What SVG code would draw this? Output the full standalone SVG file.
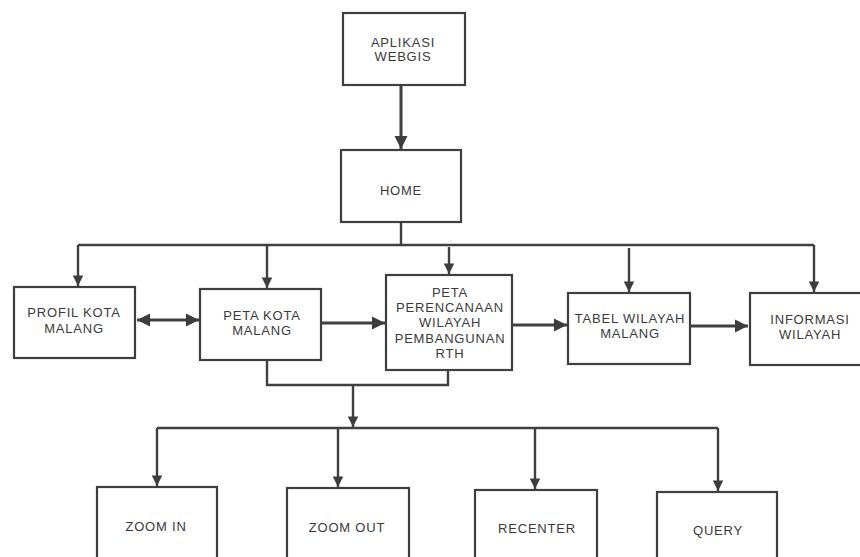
<svg xmlns="http://www.w3.org/2000/svg" width="860" height="557" viewBox="0 0 860 557">
  <defs>
    <marker id="arrow" viewBox="0 0 10 10" refX="10" refY="5" markerWidth="4.4" markerHeight="4.4" orient="auto-start-reverse" markerUnits="strokeWidth">
      <path d="M0,0 L10,5 L0,10 Z" fill="#3d3d3d"/>
    </marker>
    <style>
      .box { fill: #ffffff; stroke: #3f3f3f; stroke-width: 2.2; }
      .label { font-family: "Liberation Sans", Arial, sans-serif; font-size: 13px; letter-spacing: 0.8px; fill: #3a3a3a; text-anchor: middle; }
      .wire { fill: none; stroke: #404040; stroke-width: 2.4; }
      .wire-heavy { fill: none; stroke: #404040; stroke-width: 3; }
    </style>
  </defs>
  <rect width="860" height="557" fill="#ffffff"/>

  <!-- connectors -->
  <g id="connectors">
    <!-- app to home -->
    <path class="wire-heavy" d="M401,85 V149" marker-end="url(#arrow)"/>
    <!-- home to top-level menu bus -->
    <path class="wire" d="M401,222 V246"/>
    <path class="wire" d="M78,245 H814"/>
    <path class="wire" d="M78,245 V286" marker-end="url(#arrow)"/>
    <path class="wire" d="M267,246 V288" marker-end="url(#arrow)"/>
    <path class="wire" d="M449,247 V274" marker-end="url(#arrow)"/>
    <path class="wire" d="M629,248 V292" marker-end="url(#arrow)"/>
    <path class="wire" d="M814,245 V292" marker-end="url(#arrow)"/>
    <!-- links between menu pages -->
    <path class="wire-heavy" d="M137,320 H199" marker-start="url(#arrow)" marker-end="url(#arrow)"/>
    <path class="wire-heavy" d="M321,323 H385" marker-end="url(#arrow)"/>
    <path class="wire-heavy" d="M512,325 H567" marker-end="url(#arrow)"/>
    <path class="wire-heavy" d="M690,326 H748" marker-end="url(#arrow)"/>
    <!-- map pages to map tools -->
    <path class="wire" d="M267,360 V385 H448 V370"/>
    <path class="wire" d="M353,385 V427" marker-end="url(#arrow)"/>
    <path class="wire" d="M157,428 H718"/>
    <path class="wire" d="M157,428 V486" marker-end="url(#arrow)"/>
    <path class="wire" d="M338,428 V487" marker-end="url(#arrow)"/>
    <path class="wire" d="M535,428 V489" marker-end="url(#arrow)"/>
    <path class="wire" d="M718,428 V491" marker-end="url(#arrow)"/>
  </g>

  <g id="app">
    <rect class="box" x="343" y="13" width="122" height="72"/>
    <text class="label" x="403" y="47">APLIKASI</text>
    <text class="label" x="403" y="61">WEBGIS</text>
  </g>

  <g id="home">
    <rect class="box" x="341" y="150" width="120" height="72"/>
    <text class="label" x="401" y="195">HOME</text>
  </g>

  <g id="profil-kota">
    <rect class="box" x="14" y="287" width="121" height="71"/>
    <text class="label" x="74" y="317">PROFIL KOTA</text>
    <text class="label" x="74" y="333">MALANG</text>
  </g>

  <g id="peta-kota">
    <rect class="box" x="200" y="289" width="121" height="71"/>
    <text class="label" x="262" y="320">PETA KOTA</text>
    <text class="label" x="262" y="335">MALANG</text>
  </g>

  <g id="peta-perencanaan">
    <rect class="box" x="386" y="275" width="126" height="95"/>
    <text class="label" x="450" y="297">PETA</text>
    <text class="label" x="450" y="312">PERENCANAAN</text>
    <text class="label" x="450" y="327">WILAYAH</text>
    <text class="label" x="450" y="343">PEMBANGUNAN</text>
    <text class="label" x="450" y="358">RTH</text>
  </g>

  <g id="tabel-wilayah">
    <rect class="box" x="568" y="293" width="122" height="71"/>
    <text class="label" x="630" y="323">TABEL WILAYAH</text>
    <text class="label" x="630" y="338">MALANG</text>
  </g>

  <g id="informasi-wilayah">
    <rect class="box" x="750" y="293" width="122" height="72"/>
    <text class="label" x="810" y="324">INFORMASI</text>
    <text class="label" x="810" y="339">WILAYAH</text>
  </g>

  <g id="zoom-in">
    <rect class="box" x="97" y="487" width="120" height="80"/>
    <text class="label" x="156" y="531">ZOOM IN</text>
  </g>

  <g id="zoom-out">
    <rect class="box" x="287" y="488" width="122" height="80"/>
    <text class="label" x="347" y="532">ZOOM OUT</text>
  </g>

  <g id="recenter">
    <rect class="box" x="475" y="490" width="122" height="80"/>
    <text class="label" x="537" y="533">RECENTER</text>
  </g>

  <g id="query">
    <rect class="box" x="657" y="492" width="120" height="80"/>
    <text class="label" x="718" y="535">QUERY</text>
  </g>
</svg>
